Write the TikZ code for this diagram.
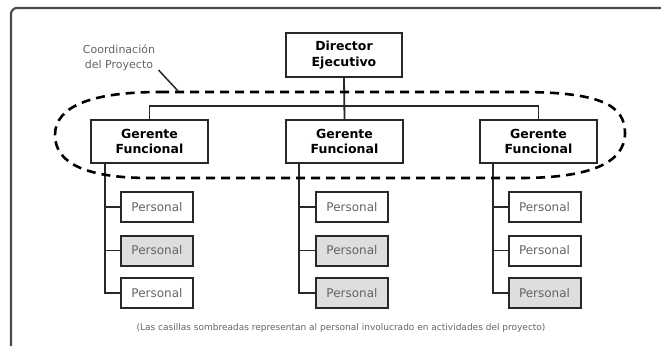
\documentclass[tikz,border=0pt]{standalone}
\usepackage{fontspec}
\setmainfont{DejaVu Sans}
\usepackage{tikz}
\usetikzlibrary{positioning,calc}

\definecolor{linea}{RGB}{40,40,40}
\definecolor{textogris}{RGB}{100,100,100}
\definecolor{sombra}{RGB}{222,222,222}
\definecolor{marco}{RGB}{75,75,75}

\tikzset{
  jefe/.style = {draw=linea, line width=2pt, fill=white, align=center,
                 font=\fontsize{12.5}{15.5}\selectfont\bfseries, inner sep=0pt},
  personal/.style = {draw=linea, line width=2pt, fill=white, minimum width=72pt,
                 minimum height=30pt, inner sep=0pt, text=textogris,
                 font=\fontsize{12}{13}\selectfont},
  sombreada/.style = {personal, fill=sombra},
  enlace/.style = {draw=linea, line width=1.8pt},
}

\begin{document}
\begin{tikzpicture}[x=1pt, y=-1pt]
    \useasboundingbox (0,0) rectangle (661,346);
    % marco de la captura
    \draw[marco, line width=2.2pt, rounded corners=6pt] (661,8) -- (11,8) -- (11,346);

    % direccion
    \node [jefe, minimum width=116pt, minimum height=44pt] (dir) at (344,55) {Director\\Ejecutivo};
    \node [jefe, minimum width=117pt, minimum height=43pt] (g1) at (149.5,141.5) {Gerente\\Funcional};
    \node [jefe, minimum width=117pt, minimum height=43pt] (g2) at (344.5,141.5) {Gerente\\Funcional};
    \node [jefe, minimum width=117pt, minimum height=43pt] (g3) at (538.5,141.5) {Gerente\\Funcional};
    \coordinate (bus) at (344,106);
    \draw[enlace] (dir.south) -- (g2.north);
    \draw[enlace] (g1.north) |- (bus) -| (g3.north);

    % personal
    \node [personal]  (p11) at (157,207) {Personal};
    \node [sombreada] (p12) at (157,250.5) {Personal};
    \node [personal]  (p13) at (157,293) {Personal};
    \node [personal]  (p21) at (352,207) {Personal};
    \node [sombreada] (p22) at (352,250.5) {Personal};
    \node [sombreada] (p23) at (352,293) {Personal};
    \node [personal]  (p31) at (544.5,207) {Personal};
    \node [personal]  (p32) at (544.5,250.5) {Personal};
    \node [sombreada] (p33) at (544.5,293) {Personal};

    \draw[enlace] ([xshift=15pt]g1.south west) |- (p13.west);
    \draw[enlace] ([xshift=15pt]g1.south west |- p11.west) -- (p11.west);
    \draw[enlace] ([xshift=15pt]g1.south west |- p12.west) -- (p12.west);
    \draw[enlace] ([xshift=14pt]g2.south west) |- (p23.west);
    \draw[enlace] ([xshift=14pt]g2.south west |- p21.west) -- (p21.west);
    \draw[enlace] ([xshift=14pt]g2.south west |- p22.west) -- (p22.west);
    \draw[enlace] ([xshift=14pt]g3.south west) |- (p33.west);
    \draw[enlace] ([xshift=14pt]g3.south west |- p31.west) -- (p31.west);
    \draw[enlace] ([xshift=14pt]g3.south west |- p32.west) -- (p32.west);

    % coordinacion del proyecto
    \draw[black, line width=2.6pt, dash pattern=on 9pt off 6pt]
        (160,92) -- (520,92) .. controls (600,92) and (625,105) .. (625,133)
        .. controls (625,165) and (585,178) .. (520,178) -- (150,178)
        .. controls (90,178) and (55,165) .. (55,135)
        .. controls (55,105) and (95,92) .. (160,92) -- cycle;
    \node [text=textogris, align=center, font=\fontsize{11}{15}\selectfont] (coord) at (119,58) {Coordinación\\del Proyecto};
    \coordinate (punta) at (178,91);
    \draw[linea, line width=1.5pt] ($(coord.east)+(0,12)$) -- (punta);

    \node [text=textogris, font=\fontsize{9}{10}\selectfont] (nota) at (341,328)
        {(Las casillas sombreadas representan al personal involucrado en actividades del proyecto)};
\end{tikzpicture}
\end{document}
